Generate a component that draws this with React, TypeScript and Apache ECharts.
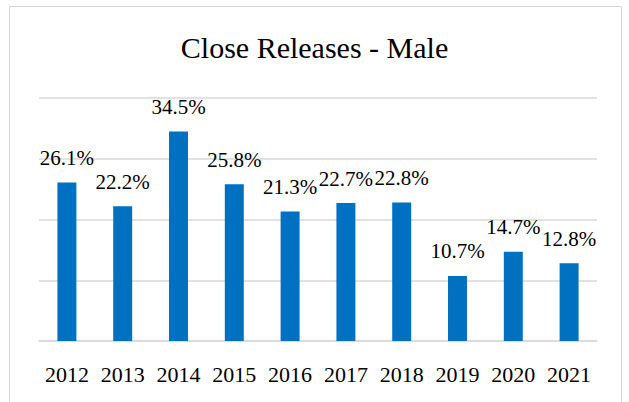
import React, { useEffect, useRef } from "react";
import * as echarts from "echarts";

const years = ["2012", "2013", "2014", "2015", "2016", "2017", "2018", "2019", "2020", "2021"];
const values = [26.1, 22.2, 34.5, 25.8, 21.3, 22.7, 22.8, 10.7, 14.7, 12.8];
const titleText = "Close Releases - Male";

const FONT = "'Liberation Serif', 'DejaVu Serif', serif";

export default function App() {
  const ref = useRef<HTMLDivElement>(null);
  useEffect(() => {
    if (!ref.current) return;
    const chart = echarts.init(ref.current, undefined, { renderer: "svg" });
    chart.setOption({
      animation: false,
      backgroundColor: "#ffffff",
      graphic: [
        {
          type: "rect",
          shape: { x: 9.5, y: 6.5, width: 612, height: 420 },
          style: { fill: "none", stroke: "#d9d9d9", lineWidth: 1 },
          silent: true,
        },
      ],
      title: {
        text: titleText,
        left: "center",
        top: 27,
        textStyle: { fontFamily: FONT, fontSize: 30, fontWeight: "normal", color: "#000" },
      },
      grid: { left: 39, right: 32, top: 98, bottom: 61, containLabel: false },
      xAxis: {
        type: "category",
        data: years,
        axisLine: { show: true, lineStyle: { color: "#d9d9d9", width: 1.5 } },
        axisTick: { show: false },
        axisLabel: {
          interval: 0,
          hideOverlap: false,
          fontFamily: FONT,
          fontSize: 22,
          color: "#000",
          margin: 22,
        },
      },
      yAxis: {
        type: "value",
        min: 0,
        max: 40,
        interval: 10,
        axisLabel: { show: false },
        axisLine: { show: false },
        axisTick: { show: false },
        splitLine: { lineStyle: { color: "#d9d9d9", width: 1.5 } },
      },
      series: [
        {
          type: "bar",
          data: values,
          barWidth: "34%",
          itemStyle: { color: "#0070C0" },
          label: {
            show: true,
            position: "top",
            distance: 14,
            formatter: (p: any) => p.value.toFixed(1) + "%",
            fontFamily: FONT,
            fontSize: 21,
            color: "#000",
          },
        },
      ],
    });
    return () => chart.dispose();
  }, []);
  return (
    <div
      ref={ref}
      style={{ position: "fixed", left: 0, top: 0, width: 629, height: 402 }}
    />
  );
}
